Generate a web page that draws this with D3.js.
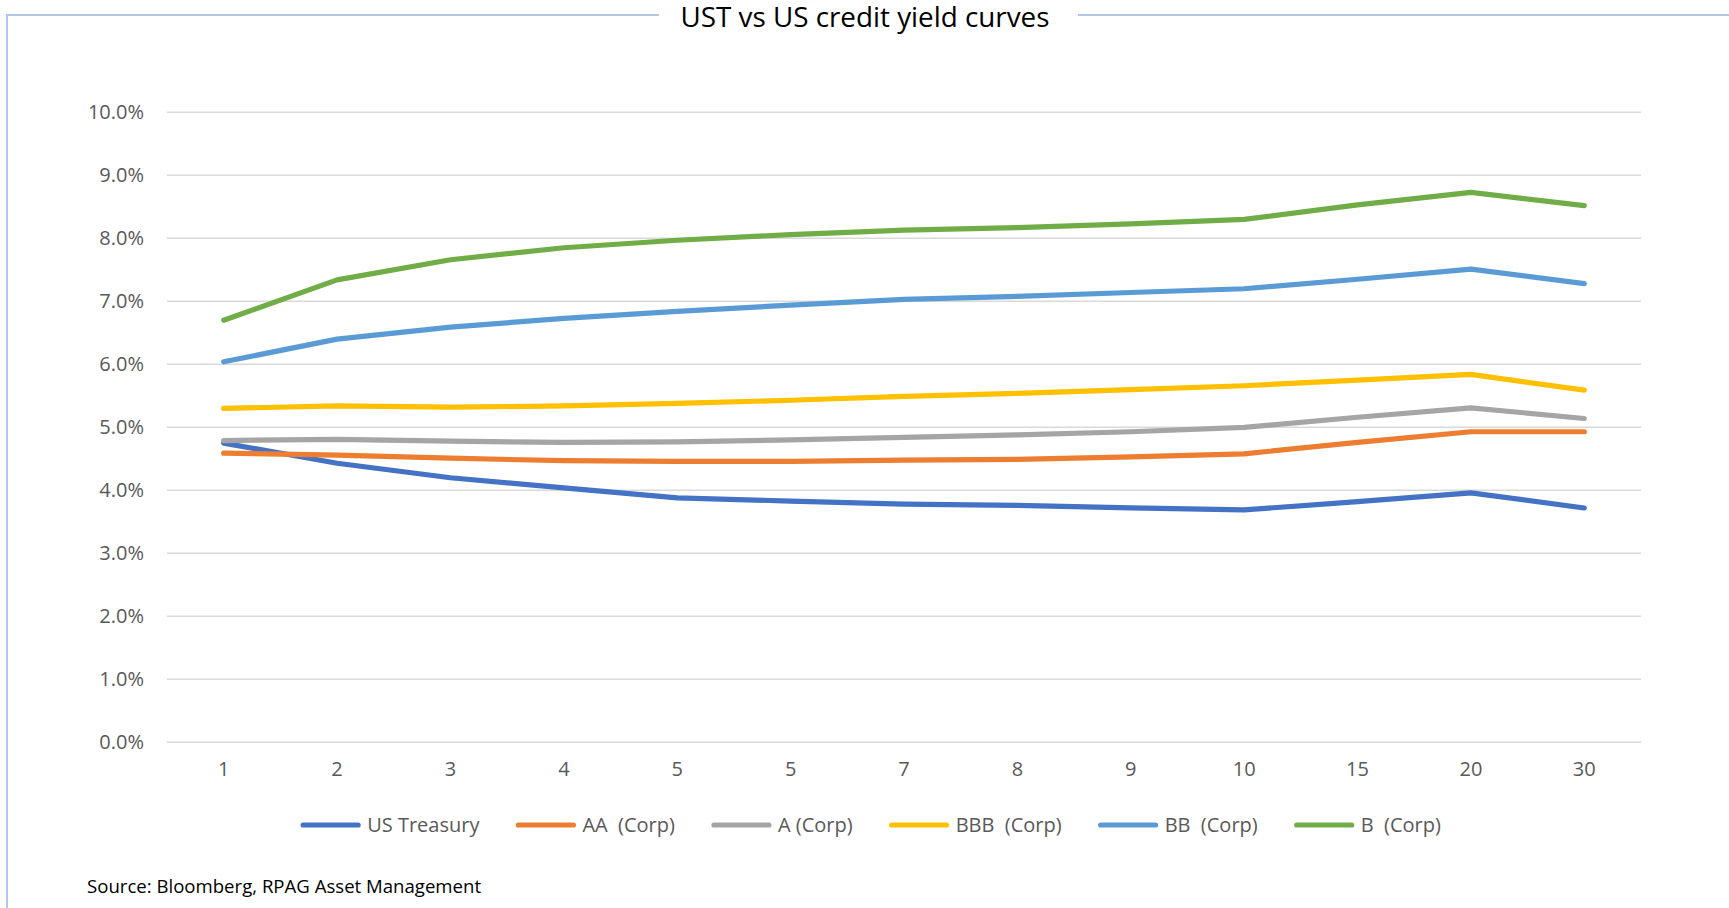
<!DOCTYPE html>
<html>
<head>
<meta charset="utf-8">
<script src="https://cdn.jsdelivr.net/npm/d3@7"></script>
<style>
  body { margin: 0; background: #fff; }
  text { font-family: "Open Sans", sans-serif; white-space: pre; }
</style>
</head>
<body>
<script>
// maturities (years) - the second "5" is how the source labels it
var maturities = ["1", "2", "3", "4", "5", "5", "7", "8", "9", "10", "15", "20", "30"];

var seriesNames = ["US Treasury", "AA  (Corp)", "A (Corp)", "BBB  (Corp)", "BB  (Corp)", "B  (Corp)"];
var seriesColors = ["#4472C4", "#ED7D31", "#A5A5A5", "#FFC000", "#5B9BD5", "#70AD47"];

// yields in %
var usTreasury = [4.74, 4.42, 4.19, 4.03, 3.87, 3.82, 3.77, 3.75, 3.71, 3.68, 3.81, 3.95, 3.71];
var aaCorp     = [4.58, 4.55, 4.50, 4.46, 4.45, 4.45, 4.47, 4.48, 4.52, 4.57, 4.75, 4.92, 4.92];
var aCorp      = [4.78, 4.80, 4.77, 4.75, 4.76, 4.79, 4.83, 4.87, 4.92, 4.99, 5.15, 5.30, 5.13];
var bbbCorp    = [5.29, 5.33, 5.31, 5.33, 5.37, 5.42, 5.48, 5.53, 5.59, 5.65, 5.74, 5.83, 5.58];
var bbCorp     = [6.03, 6.39, 6.58, 6.72, 6.83, 6.93, 7.02, 7.07, 7.13, 7.19, 7.34, 7.50, 7.27];
var bCorp      = [6.69, 7.33, 7.65, 7.84, 7.96, 8.05, 8.12, 8.16, 8.22, 8.29, 8.52, 8.72, 8.51];

var yTicks = [0, 1, 2, 3, 4, 5, 6, 7, 8, 9, 10];

var allSeries = [usTreasury, aaCorp, aCorp, bbbCorp, bbCorp, bCorp];

var width = 1729;
var height = 908;

var svg = d3.select("body")
    .append("svg")
    .attr("width", width)
    .attr("height", height);

svg.append("rect")
    .attr("width", "100%")
    .attr("height", "100%")
    .attr("fill", "#fff");

// plot area
var plotLeft = 167, plotRight = 1641, plotTop = 111.7, plotBottom = 741.7;

var x = d3.scaleBand()
    .domain(d3.range(maturities.length))
    .range([plotLeft, plotRight]);

var y = d3.scaleLinear()
    .domain([0, 10])
    .range([plotBottom, plotTop]);

// frame lines around the chart (top broken by the title)
var frame = svg.append("g")
    .attr("stroke", "#b4c6e7")
    .attr("stroke-width", 2);
frame.append("line").attr("x1", 7).attr("y1", 15).attr("x2", 659).attr("y2", 15);
frame.append("line").attr("x1", 1078).attr("y1", 15).attr("x2", width).attr("y2", 15);
frame.append("line").attr("x1", 7).attr("y1", 14).attr("x2", 7).attr("y2", height);

svg.append("text")
    .attr("x", 865)
    .attr("y", 27)
    .attr("text-anchor", "middle")
    .attr("textLength", 369)
    .attr("lengthAdjust", "spacingAndGlyphs")
    .style("font-size", "27px")
    .style("fill", "#000")
    .text("UST vs US credit yield curves");

// gridlines + y labels
var yAxis = d3.axisLeft(y)
    .tickValues(yTicks)
    .tickSize(-(plotRight - plotLeft))
    .tickPadding(23)
    .tickFormat(function(d) { return d.toFixed(1) + "%"; });

var gy = svg.append("g")
    .attr("transform", "translate(" + plotLeft + ",0)")
    .call(yAxis);
gy.select(".domain").remove();
gy.selectAll(".tick line")
    .attr("stroke", "#d9d9d9")
    .attr("stroke-width", 1.5);
gy.selectAll(".tick text")
    .style("font-size", "20px")
    .style("fill", "#595959")
    .style("font-family", "'Open Sans', sans-serif");

// x labels
var xAxis = d3.axisBottom(x)
    .tickSize(0)
    .tickPadding(20)
    .tickFormat(function(i) { return maturities[i]; });

var gx = svg.append("g")
    .attr("transform", "translate(0," + plotBottom + ")")
    .call(xAxis);
gx.select(".domain").remove();
gx.selectAll(".tick text")
    .style("font-size", "20px")
    .style("fill", "#595959")
    .style("font-family", "'Open Sans', sans-serif");

// the lines
var line = d3.line()
    .x(function(d, i) { return x(i) + x.bandwidth() / 2; })
    .y(function(d) { return y(d); });

svg.append("g")
    .selectAll("path")
    .data(allSeries)
    .enter()
    .append("path")
    .attr("d", line)
    .attr("fill", "none")
    .attr("stroke", function(d, i) { return seriesColors[i]; })
    .attr("stroke-width", 5.2)
    .attr("stroke-linecap", "round")
    .attr("stroke-linejoin", "round");

// legend, centred under the chart
var legend = svg.append("g");
var items = legend.selectAll("g")
    .data(seriesNames)
    .enter()
    .append("g");

items.append("line")
    .attr("x1", 0).attr("x2", 55)
    .attr("y1", 0).attr("y2", 0)
    .attr("stroke", function(d, i) { return seriesColors[i]; })
    .attr("stroke-width", 5.2)
    .attr("stroke-linecap", "round");

items.append("text")
    .attr("x", 64)
    .attr("y", 7)
    .style("font-size", "20px")
    .style("fill", "#595959")
    .text(function(d) { return d; });

var gap = 39;
var pos = 0;
items.each(function() {
    var w = 64 + this.querySelector("text").getComputedTextLength();
    d3.select(this).attr("transform", "translate(" + pos + ",0)");
    pos += w + gap;
});
var total = pos - gap;
legend.attr("transform", "translate(" + (872 - total / 2) + ",825)");

svg.append("text")
    .attr("x", 87)
    .attr("y", 893)
    .style("font-size", "18.6px")
    .style("fill", "#000")
    .text("Source: Bloomberg, RPAG Asset Management");
</script>
</body>
</html>
